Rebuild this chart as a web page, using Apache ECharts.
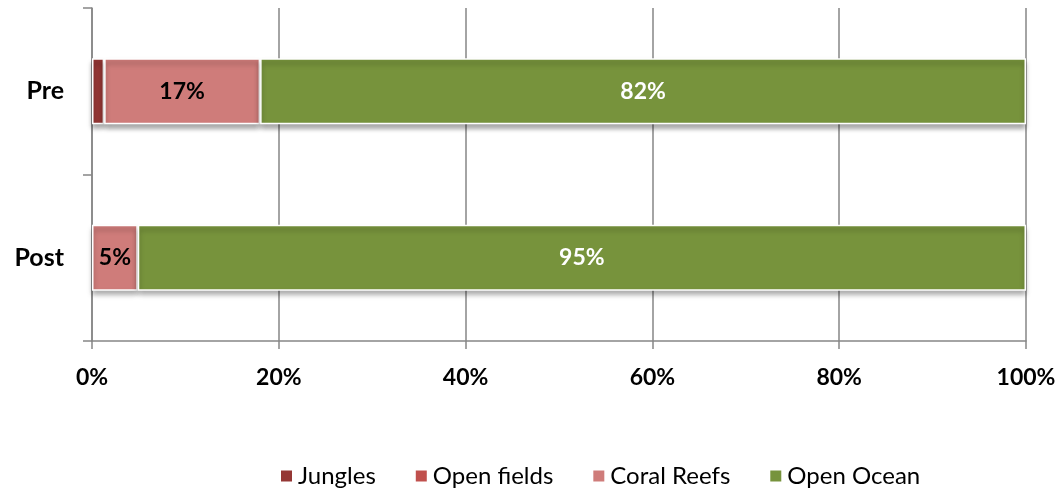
<!DOCTYPE html>
<html><head><meta charset="utf-8">
<script src="https://cdn.jsdelivr.net/npm/echarts@6/dist/echarts.min.js"></script>
<style>html,body{margin:0;padding:0;background:#fff}#c{width:1060px;height:488px}</style>
</head><body><div id="c"></div>
<script>
const categories = ['Pre', 'Post'];
const jungles = [1.3, 0];
const openFields = [0, 0];
const coralReefs = [16.7, 4.9];
const openOcean = [82.0, 95.1];
const xTicks = [0, 20, 40, 60, 80, 100];

const FONT = 'Lato, "Open Sans", sans-serif';
const chart = echarts.init(document.getElementById('c'));
const shadow = {shadowColor: 'rgba(0,0,0,0.35)', shadowBlur: 5, shadowOffsetY: 4, borderColor: '#fff', borderWidth: 1.5};
function mk(name, data, color, labelColor) {
  return {
    name, type: 'bar', stack: 'total', data: data.map(v => v > 0 ? v : '-'), barWidth: 66,
    itemStyle: Object.assign({color}, shadow),
    label: {
      show: !!labelColor, color: labelColor, fontFamily: FONT, fontWeight: 'bold', fontSize: 23,
      formatter: p => p.value >= 3 ? Math.round(p.value) + '%' : ''
    }
  };
}
chart.setOption({
  animation: false,
  grid: {left: 92, right: 34, top: 8, bottom: 147},
  legend: {
    top: 459, left: 274, itemWidth: 13, itemHeight: 13, itemGap: 38,
    textStyle: {fontFamily: FONT, fontSize: 24, color: '#000'},
    data: ['Jungles', 'Open fields', 'Coral Reefs', 'Open Ocean'].map(n => ({name: n, icon: 'rect'}))
  },
  xAxis: {
    type: 'value', min: 0, max: 100, interval: 20,
    axisLine: {show: true, lineStyle: {color: '#868686', width: 1.5}},
    axisTick: {show: true, length: 8, lineStyle: {color: '#868686', width: 1.5}},
    splitLine: {show: true, lineStyle: {color: '#868686', width: 1.5}},
    axisLabel: {formatter: v => xTicks.includes(v) ? v + '%' : '', color: '#000', fontFamily: FONT, fontWeight: 'bold', fontSize: 23, margin: 25}
  },
  yAxis: {
    type: 'category', data: categories, inverse: true,
    axisLine: {show: true, lineStyle: {color: '#868686', width: 1.5}},
    axisTick: {show: true, length: 9, lineStyle: {color: '#868686', width: 1.5}},
    axisLabel: {color: '#000', fontFamily: FONT, fontWeight: 'bold', fontSize: 25, margin: 28}
  },
  series: [
    mk('Jungles', jungles, '#953735', null),
    mk('Open fields', openFields, '#C0504D', null),
    mk('Coral Reefs', coralReefs, '#CF7C7A', '#000'),
    mk('Open Ocean', openOcean, '#77933C', '#fff')
  ]
});
</script></body></html>
